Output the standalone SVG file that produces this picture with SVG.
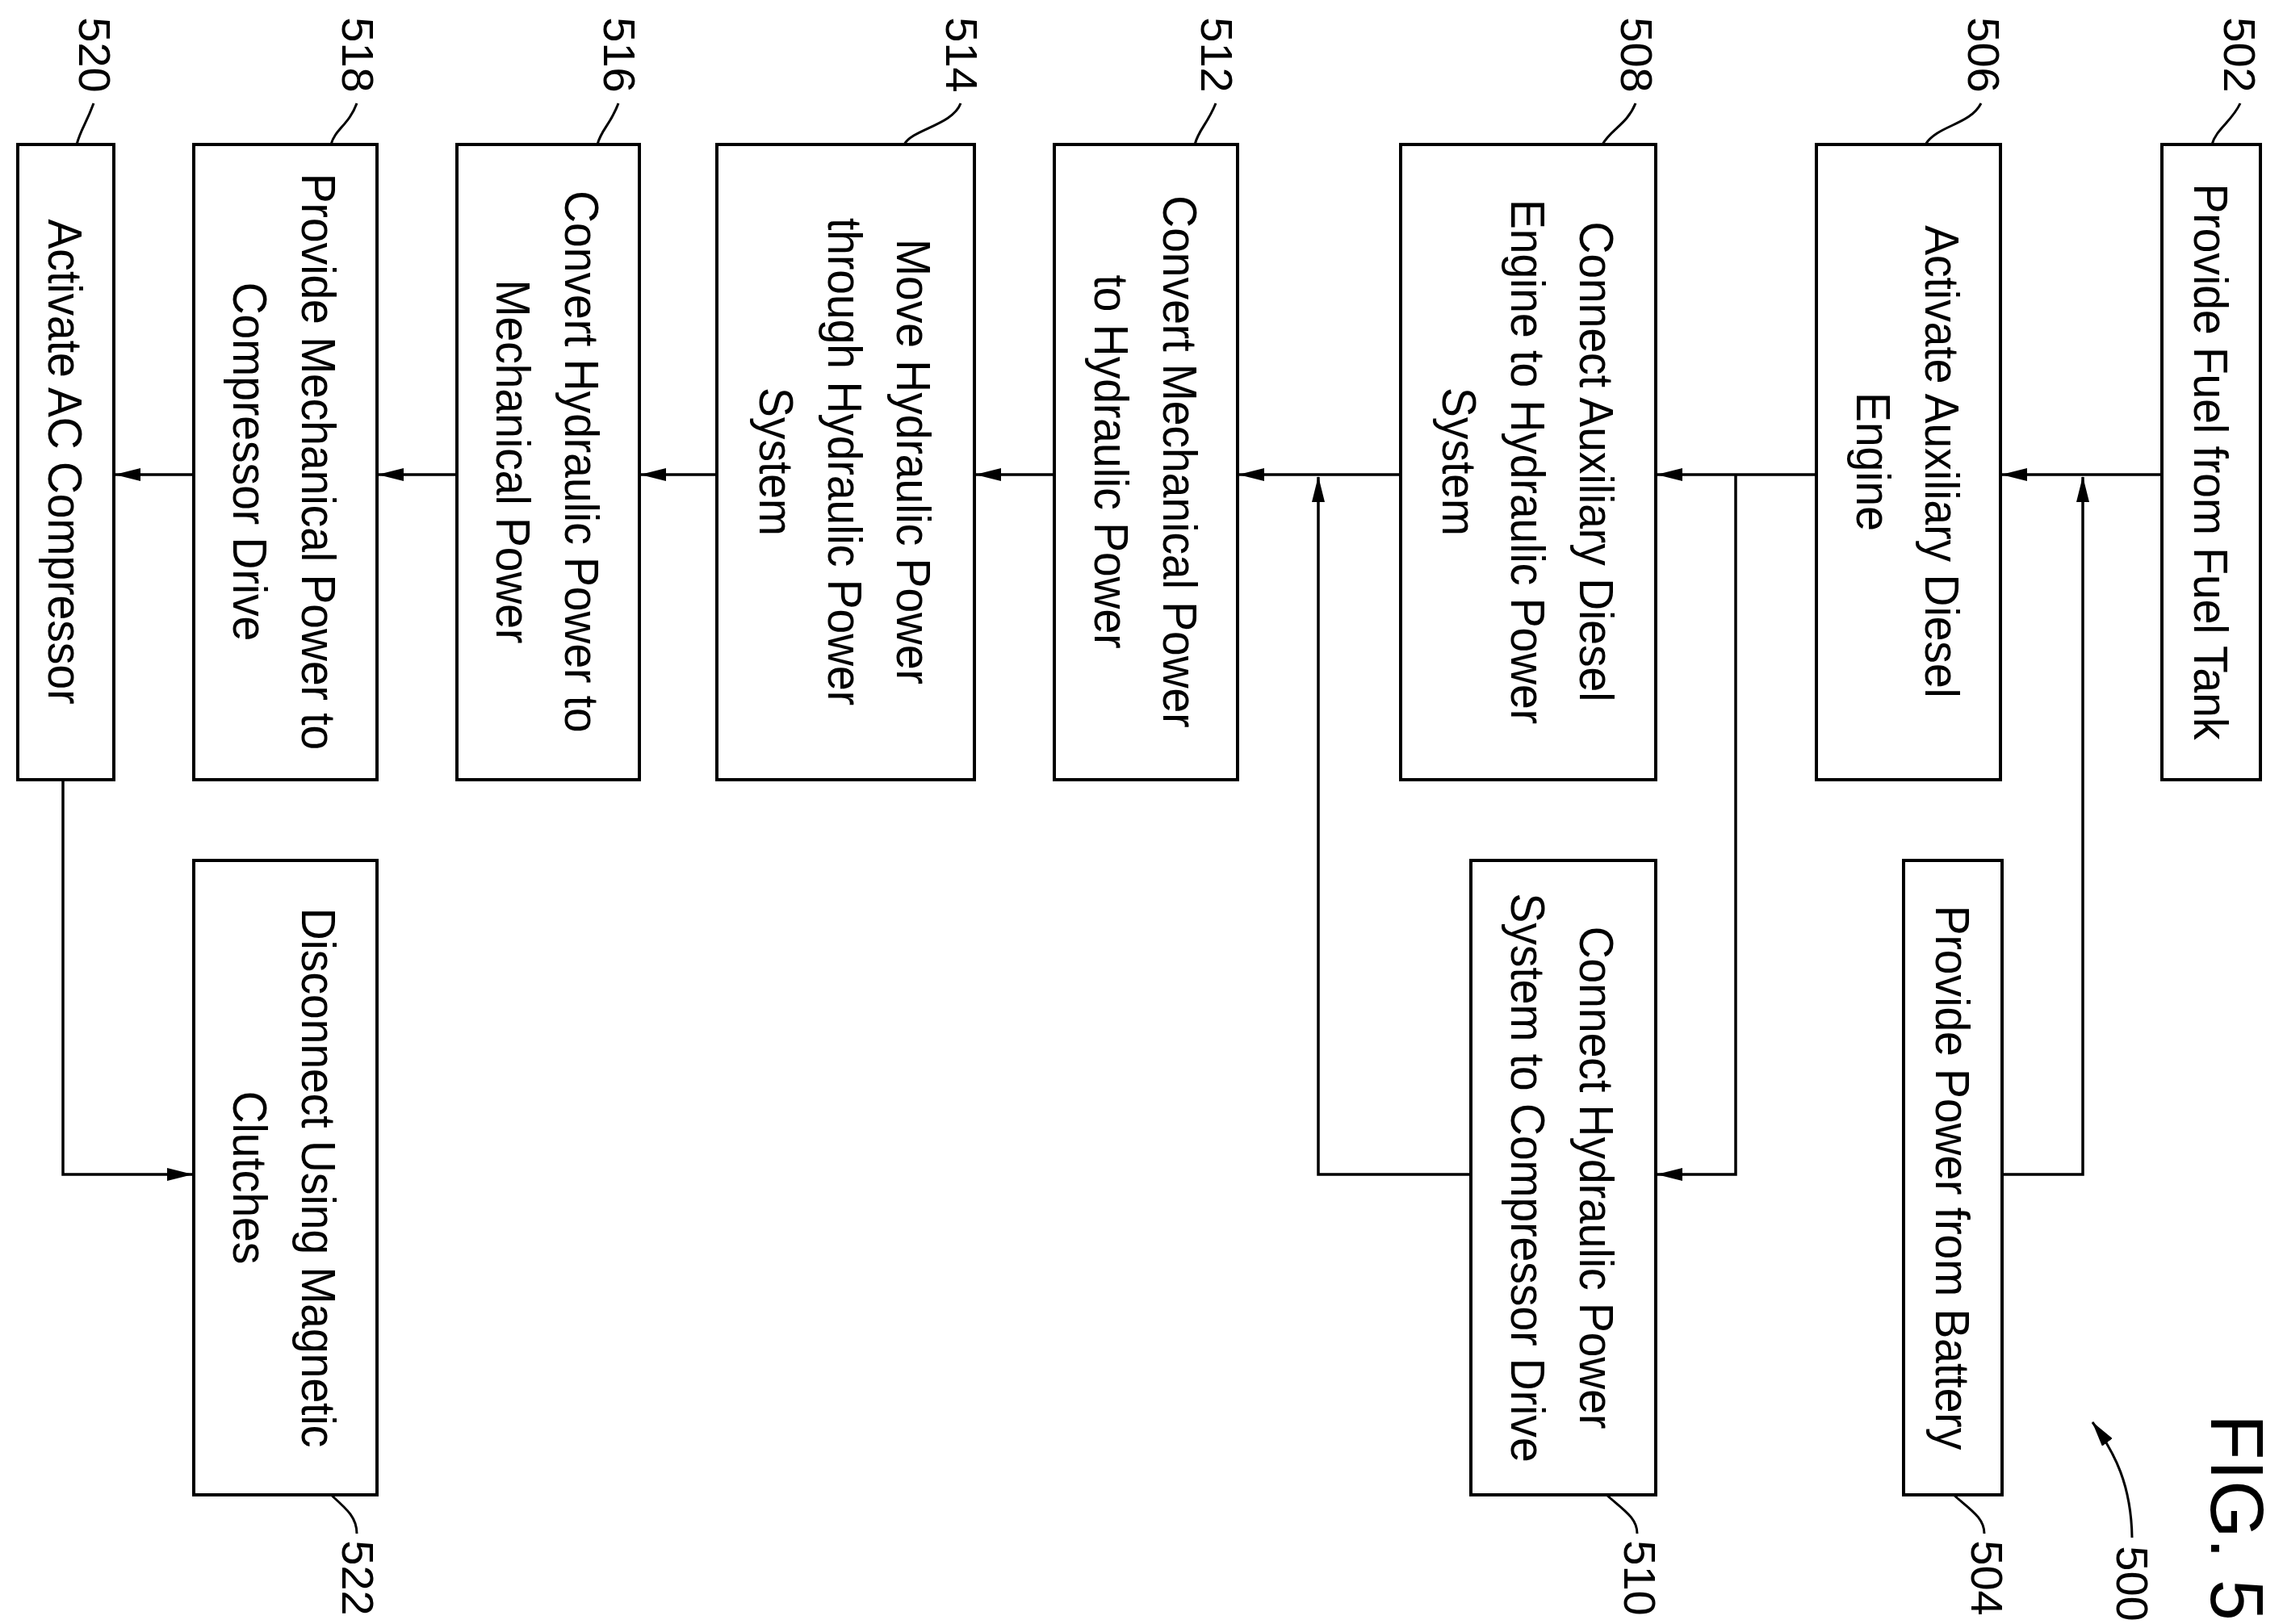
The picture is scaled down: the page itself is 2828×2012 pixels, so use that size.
<svg xmlns="http://www.w3.org/2000/svg" width="2828" height="2012" viewBox="0 0 2828 2012">
<style>
.b{fill:#fff;stroke:#000;stroke-width:4}
.t{font-family:"Liberation Sans",Arial,sans-serif;font-size:60px;text-anchor:middle;fill:#000}
.n{font-family:"Liberation Sans",Arial,sans-serif;font-size:56px;text-anchor:middle;fill:#000}
.c{fill:none;stroke:#000;stroke-width:3.5}
.l{fill:none;stroke:#000;stroke-width:3}
</style>
<defs>
<marker id="a" markerWidth="12" markerHeight="8" refX="11" refY="4" orient="auto" markerUnits="userSpaceOnUse" viewBox="0 0 12 8"><path d="M0,0 L12,4 L0,8 Z" fill="#000"/></marker>
<marker id="ar" markerWidth="32" markerHeight="16" refX="31" refY="8" orient="auto" markerUnits="userSpaceOnUse" viewBox="0 0 32 16"><path d="M0,0 L32,8 L0,16 Z" fill="#000"/></marker>
</defs>
<rect width="2828" height="2012" fill="#fff"/>
<g id="connectors">
<path class="c" marker-end="url(#ar)" d="M2678,588 H2480"/>
<path class="c" marker-end="url(#ar)" d="M2250,588 H2053"/>
<path class="c" marker-end="url(#ar)" d="M1735,588 H1535"/>
<path class="c" marker-end="url(#ar)" d="M1306,588 H1209"/>
<path class="c" marker-end="url(#ar)" d="M888,588 H794"/>
<path class="c" marker-end="url(#ar)" d="M566,588 H469"/>
<path class="c" marker-end="url(#ar)" d="M240,588 H143"/>
<path class="c" marker-end="url(#ar)" d="M2480,1455 H2580 V591"/>
<path class="c" marker-end="url(#ar)" d="M2150,588 V1455 H2053"/>
<path class="c" marker-end="url(#ar)" d="M1822,1455 H1633 V591"/>
<path class="c" marker-end="url(#ar)" d="M78,966 V1455 H238"/>
</g>
<g id="n502"><rect class="b" x="2678" y="179" width="122" height="787"/>
<text class="t" transform="translate(2739,572) rotate(90) scale(0.92,1)" y="21">Provide Fuel from Fuel Tank</text></g>
<g id="n506"><rect class="b" x="2250" y="179" width="228" height="787"/>
<text class="t" transform="translate(2364,572) rotate(90) scale(0.92,1)"><tspan x="0" y="-21">Activate Auxiliary Diesel</tspan><tspan x="0" y="64">Engine</tspan></text></g>
<g id="n508"><rect class="b" x="1735" y="179" width="316" height="787"/>
<text class="t" transform="translate(1893,572) rotate(90) scale(0.92,1)"><tspan x="0" y="-64">Connect Auxiliary Diesel</tspan><tspan x="0" y="21">Engine to Hydraulic Power</tspan><tspan x="0" y="106">System</tspan></text></g>
<g id="n512"><rect class="b" x="1306" y="179" width="227" height="787"/>
<text class="t" transform="translate(1420,572) rotate(90) scale(0.92,1)"><tspan x="0" y="-21">Convert Mechanical Power</tspan><tspan x="0" y="64">to Hydraulic Power</tspan></text></g>
<g id="n514"><rect class="b" x="888" y="179" width="319" height="787"/>
<text class="t" transform="translate(1047,572) rotate(90) scale(0.92,1)"><tspan x="0" y="-64">Move Hydraulic Power</tspan><tspan x="0" y="21">through Hydraulic Power</tspan><tspan x="0" y="106">System</tspan></text></g>
<g id="n516"><rect class="b" x="566" y="179" width="226" height="787"/>
<text class="t" transform="translate(679,572) rotate(90) scale(0.92,1)"><tspan x="0" y="-21">Convert Hydraulic Power to</tspan><tspan x="0" y="64">Mechanical Power</tspan></text></g>
<g id="n518"><rect class="b" x="240" y="179" width="227" height="787"/>
<text class="t" transform="translate(353,572) rotate(90) scale(0.92,1)"><tspan x="0" y="-21">Provide Mechanical Power to</tspan><tspan x="0" y="64">Compressor Drive</tspan></text></g>
<g id="n520"><rect class="b" x="22" y="179" width="119" height="787"/>
<text class="t" transform="translate(81,572) rotate(90) scale(0.92,1)" y="21">Activate AC Compressor</text></g>
<g id="n504"><rect class="b" x="2358" y="1066" width="122" height="786"/>
<text class="t" transform="translate(2419,1459) rotate(90) scale(0.92,1)" y="21">Provide Power from Battery</text></g>
<g id="n510"><rect class="b" x="1822" y="1066" width="229" height="786"/>
<text class="t" transform="translate(1936,1459) rotate(90) scale(0.92,1)"><tspan x="0" y="-21">Connect Hydraulic Power</tspan><tspan x="0" y="64">System to Compressor Drive</tspan></text></g>
<g id="n522"><rect class="b" x="240" y="1066" width="227" height="786"/>
<text class="t" transform="translate(353,1459) rotate(90) scale(0.92,1)"><tspan x="0" y="-21">Disconnect Using Magnetic</tspan><tspan x="0" y="64">Clutches</tspan></text></g>
<g id="labels">
<text class="n" transform="translate(2775,68) rotate(90)" y="20">502</text>
<path class="l" d="M2775,128 C2765,150 2745,160 2740,179"/>
<text class="n" transform="translate(2458,68) rotate(90)" y="20">506</text>
<path class="l" d="M2454,128 C2440,155 2400,155 2385,179"/>
<text class="n" transform="translate(2028,68) rotate(90)" y="20">508</text>
<path class="l" d="M2026,128 C2015,155 1995,160 1985,179"/>
<text class="n" transform="translate(1508,68) rotate(90)" y="20">512</text>
<path class="l" d="M1506,128 C1495,155 1485,160 1480,179"/>
<text class="n" transform="translate(1192,68) rotate(90)" y="20">514</text>
<path class="l" d="M1190,128 C1180,155 1130,160 1120,179"/>
<text class="n" transform="translate(768,68) rotate(90)" y="20">516</text>
<path class="l" d="M766,128 C756,155 745,160 740,179"/>
<text class="n" transform="translate(444,68) rotate(90)" y="20">518</text>
<path class="l" d="M442,128 C432,155 415,160 410,179"/>
<text class="n" transform="translate(118,68) rotate(90)" y="20">520</text>
<path class="l" d="M116,128 C106,155 100,160 95,179"/>
<text class="n" transform="translate(2462,1955) rotate(90)" y="20">504</text>
<path class="l" d="M2420,1852 C2440,1870 2458,1880 2458,1900"/>
<text class="n" transform="translate(2032,1955) rotate(90)" y="20">510</text>
<path class="l" d="M1990,1852 C2010,1870 2028,1880 2028,1900"/>
<text class="n" transform="translate(444,1955) rotate(90)" y="20">522</text>
<path class="l" d="M410,1852 C430,1870 442,1880 442,1900"/>
<text class="n" transform="translate(2642,1962) rotate(90)" y="20">500</text>
<path class="l" marker-end="url(#ar)" d="M2641,1905 C2640,1840 2620,1800 2592,1762"/>
<text class="n" style="font-size:92px" transform="translate(2772,1880) rotate(90)" y="33">FIG. 5</text>
</g>
</svg>
